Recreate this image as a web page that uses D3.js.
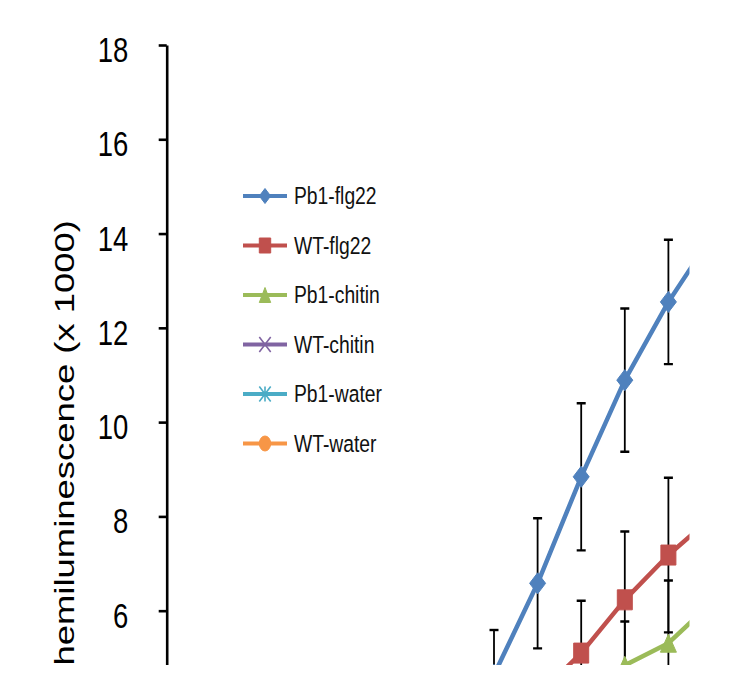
<!DOCTYPE html>
<html><head><meta charset="utf-8">
<script src="https://cdn.jsdelivr.net/npm/d3@7"></script>
<style>html,body{margin:0;padding:0;background:#fff}</style>
</head><body><svg id="c" width="734" height="684"></svg>
<script>
// ---- data ----
const timePoints = [1,2,3,4,5,6,7,8,9,10,11,12,13];
const seriesNames = ["Pb1-flg22","WT-flg22","Pb1-chitin","WT-chitin","Pb1-water","WT-water"];
const pb1Flg22      = [0.9,1.0,1.2,1.5,2.0,2.7,3.6,4.64,6.58,8.84,10.89,12.55,13.95];
const pb1Flg22Err   = [0.2,0.2,0.3,0.3,0.4,0.6,0.8,0.95,1.38,1.56,1.52,1.32,1.4];
const wtFlg22       = [0.8,0.9,1.0,1.2,1.5,2.0,2.6,3.3,4.2,5.10,6.23,7.18,7.99];
const wtFlg22Err    = [0.2,0.2,0.2,0.3,0.3,0.4,0.5,0.5,0.6,1.11,1.45,1.64,1.7];
const pb1Chitin     = [0.5,0.6,0.7,0.9,1.1,1.4,1.8,2.3,3.0,3.9,4.84,5.31,6.18];
const pb1ChitinErr  = [0.1,0.1,0.2,0.2,0.2,0.3,0.3,0.4,0.5,0.5,0.93,1.33,1.4];
const wtChitin      = [0.6,0.7,0.8,0.9,1.1,1.3,1.6,1.9,2.3,2.7,3.1,3.5,3.9];
const wtChitinErr   = [0.1,0.1,0.1,0.2,0.2,0.2,0.3,0.3,0.3,0.4,0.4,0.5,0.5];
const pb1Water      = [0.3,0.3,0.4,0.4,0.5,0.5,0.6,0.6,0.7,0.7,0.8,0.8,0.9];
const pb1WaterErr   = [0.1,0.1,0.1,0.1,0.1,0.1,0.1,0.2,0.2,0.2,0.2,0.2,0.2];
const wtWater       = [0.3,0.3,0.3,0.4,0.4,0.4,0.5,0.5,0.5,0.6,0.6,0.6,0.7];
const wtWaterErr    = [0.1,0.1,0.1,0.1,0.1,0.1,0.1,0.1,0.1,0.2,0.2,0.2,0.2];
const yTicks = [6,8,10,12,14,16,18];
const yTitle = "Chemiluminescence (x 1000)";

// ---- styles ----
const colors  = ["#4F81BD","#C0504D","#9BBB59","#8064A2","#4BACC6","#F79646"];
const shapes  = ["diamond","square","triangle","x","star","circle"];
const values  = [pb1Flg22, wtFlg22, pb1Chitin, wtChitin, pb1Water, wtWater];
const errors  = [pb1Flg22Err, wtFlg22Err, pb1ChitinErr, wtChitinErr, pb1WaterErr, wtWaterErr];
const series = seriesNames.map((name,i)=>({
  name, color: colors[i], shape: shapes[i],
  points: timePoints.map((t,j)=>({t, v: values[i][j], e: errors[i][j]}))
}));

const svg = d3.select("#c");
svg.append("defs").append("clipPath").attr("id","pageClip")
  .append("rect").attr("x",0).attr("y",0).attr("width",689.5).attr("height",665);
const root = svg.append("g").attr("clip-path","url(#pageClip)");

const x = d3.scaleLinear().domain([1,13]).range([188.8,712]);
const y = d3.scaleLinear().domain([0,18]).range([45+18*47.14,45]);

function markerPath(shape, hw, hh){
  switch(shape){
    case "diamond": return `M0,${-hh}L${hw},0L0,${hh}L${-hw},0Z`;
    case "square": return `M${-hw},${-hh}H${hw}V${hh}H${-hw}Z`;
    case "triangle": return `M0,${-hh}L${hw},${hh}L${-hw},${hh}Z`;
    case "x": return `M${-hw},${-hh}L${hw},${hh}M${hw},${-hh}L${-hw},${hh}`;
    case "star": return `M${-hw},${-hh}L${hw},${hh}M${hw},${-hh}L${-hw},${hh}M0,${-hh}V${hh}`;
    case "circle": return `M${-hw},0A${hw},${hh} 0 1,0 ${hw},0A${hw},${hh} 0 1,0 ${-hw},0Z`;
  }
}
const lineStroke = s => (s==="x"||s==="star");

// ---- y axis ----
const axis = d3.axisLeft(y).tickValues(yTicks).tickSize(8).tickSizeOuter(0).tickFormat(d3.format("d"));
const ag = root.append("g").attr("transform","translate(166.7,0)").call(axis);
ag.select(".domain").attr("stroke","#000").attr("stroke-width",2.6);
ag.selectAll(".tick line").attr("stroke","#000").attr("stroke-width",2.6);
ag.selectAll(".tick text")
  .attr("x",-38.4).attr("dy",null).attr("y",12.8)
  .attr("transform","scale(1,1.29)")
  .attr("fill","#000")
  .style("font-family","'Liberation Sans', Arial, sans-serif")
  .style("font-size","27.5px");

// ---- y title ----
root.append("g").attr("transform","translate(73.5,220) rotate(-90) scale(1.35,1)")
  .append("text").attr("text-anchor","end")
  .style("font-family","'Liberation Sans', Arial, sans-serif")
  .style("font-size","27px").attr("fill","#000")
  .text(yTitle);

// ---- error bars ----
const eg = root.append("g");
series.forEach(s=>{
  s.points.forEach(p=>{
    const g = eg.append("g").attr("stroke","#000").attr("stroke-width",1.8);
    const cx = x(p.t);
    g.append("line").attr("x1",cx).attr("x2",cx).attr("y1",y(p.v+p.e)).attr("y2",y(p.v-p.e));
    g.append("line").attr("x1",cx-4.5).attr("x2",cx+4.5).attr("y1",y(p.v+p.e)).attr("y2",y(p.v+p.e)).attr("stroke-width",2.4);
    g.append("line").attr("x1",cx-4.5).attr("x2",cx+4.5).attr("y1",y(p.v-p.e)).attr("y2",y(p.v-p.e)).attr("stroke-width",2.4);
  });
});

// ---- lines & markers ----
const line = d3.line().x(d=>x(d.t)).y(d=>y(d.v));
const dataMarkerSize = {diamond:[8,10.5],square:[7.5,10],triangle:[8,9],x:[6,8],star:[6,8],circle:[6,8]};
[...series].reverse().forEach(s=>{
  root.append("path").datum(s.points).attr("d",line)
    .attr("fill","none").attr("stroke",s.color).attr("stroke-width",4.5).attr("stroke-linejoin","round");
  const [hw,hh] = dataMarkerSize[s.shape];
  root.append("g").selectAll("path").data(s.points).join("path")
    .attr("transform",d=>`translate(${x(d.t)},${y(d.v)})`)
    .attr("d",markerPath(s.shape,hw,hh))
    .attr("fill",lineStroke(s.shape)?"none":s.color)
    .attr("stroke",s.color).attr("stroke-width",lineStroke(s.shape)?1.8:1);
});

// ---- legend ----
const legendY = d3.scalePoint().domain(seriesNames).range([196,443.5]);
const lg = root.append("g");
series.forEach(s=>{
  const ly = legendY(s.name);
  const g = lg.append("g");
  g.append("line").attr("x1",243).attr("x2",287).attr("y1",ly).attr("y2",ly)
    .attr("stroke",s.color).attr("stroke-width",4);
  g.append("path").attr("transform",`translate(265,${ly})`)
    .attr("d",markerPath(s.shape,5.7,7.5))
    .attr("fill",lineStroke(s.shape)?"none":s.color)
    .attr("stroke",s.color).attr("stroke-width",lineStroke(s.shape)?1.6:1);
  g.append("g").attr("transform",`translate(294,${ly+8.2}) scale(1,1.21)`)
    .append("text")
    .style("font-family","'Liberation Sans', Arial, sans-serif")
    .style("font-size","19.3px").attr("fill","#111")
    .text(s.name);
});
</script></body></html>
